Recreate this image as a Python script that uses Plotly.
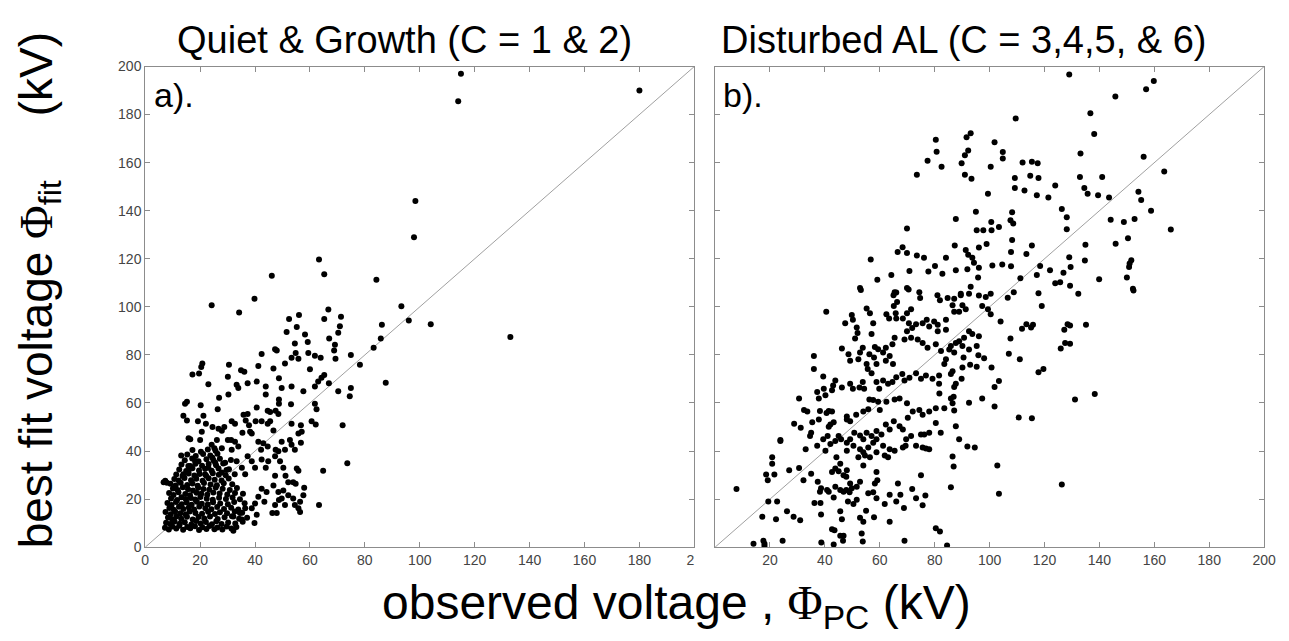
import plotly.graph_objects as go

# ---------------- data: panel a) Quiet & Growth (observed, fit) ----------------
quiet_points = [
    # sparse upper points
    (115, 197), (114, 185.5), (180, 190), (98.4, 144), (97.9, 129), (63.3, 119.7), (65.2, 113.6),
    (46.1, 112.9), (84.2, 111.3), (93.3, 100.3), (96, 94.3), (104, 92.8), (133, 87.5), (86.2, 92.5),
    (85.8, 86.8), (83.2, 83), (87.6, 68.4),
    # mid region
    (24.2, 100.7), (39.8, 103.4), (34.2, 97.7), (52.4, 94.9), (56, 96.6), (66.7, 98.9), (71.3, 95.9),
    (65.2, 94.9), (51.5, 89.5), (55.2, 91.6), (70.9, 91.9), (70.3, 89.2), (78.2, 75.9), (74.9, 80),
    (74.9, 66.2), (74.5, 62.8), (71.9, 50.7), (73.6, 34.9), (64.8, 31.8), (63.3, 17.6),
    (58.2, 88.5), (59.2, 85.4), (59.4, 80.8), (61.8, 79.7), (63.9, 78.8), (67, 86.8), (69.1, 84.2),
    (68.8, 81.8), (69.3, 78.4), (54.5, 84.7), (54.8, 80.8), (55.8, 78.4), (53.3, 78.8), (47.3, 82.4),
    (47.9, 81.8), (42.4, 80.4), (50.9, 76.4), (60, 74), (65.2, 71.6), (64.2, 70.5), (61.8, 66.9),
    (63, 68.9), (70.3, 64.9), (66.9, 68.2), (57.6, 64.9), (53.3, 66.9), (49.7, 66.2), (46.7, 74.3),
    (48.7, 70.3), (41.2, 75.4), (34.9, 73.6), (36.1, 73), (30.5, 75.9), (30.1, 70.9), (33.3, 67.6),
    (33.9, 66.2), (40.6, 68.9), (43.9, 66.9), (43.9, 63.5), (37.3, 68.2), (30.3, 63.5), (26.9, 62.2),
    (23, 67.8), (20.8, 76.4), (20.4, 75), (19.6, 72.3), (17.2, 71.9), (15.2, 60.5), (14.5, 59.7),
    (20.2, 59.1), (26.4, 57.4), (13.9, 54.7), (15.2, 52.7), (19.2, 52.4), (21.2, 54.7), (22.1, 51.4),
    (24.5, 50), (26.7, 49.3), (27.9, 48.4), (28.8, 50), (31.5, 52.4), (32.7, 51.4), (35.8, 55.1),
    (37.3, 55.4), (36.6, 52.7), (37.8, 50.7), (40.6, 58.1), (40.2, 52.4), (42.4, 52.4), (44.6, 51.4),
    (45.5, 52.4), (47.5, 56.8), (48.5, 55.4), (48.7, 61.5), (48.7, 59.7), (44.6, 56.8), (45.5, 56.2),
    (53.1, 59.5), (53.3, 51.4), (56.7, 50.7), (57, 48), (60.6, 52.4), (62.1, 51.1), (62.4, 57.4),
    (61.8, 59.7), (15.8, 45.3), (16.4, 44.9), (13.1, 38.2), (20.6, 48), (20, 44.6), (24.2, 42.6),
    (26.1, 44.6), (25.2, 41.2), (30.1, 44.6), (31.3, 44.6), (32.7, 43.9), (27.9, 41.2), (31.5, 40.5),
    (33.9, 41.9), (35.4, 47.6), (38.2, 48), (38.8, 47.3), (41.2, 43.9), (43, 43.2), (42.2, 40.5),
    (44.6, 41.9), (47.5, 40.5), (48.5, 39.9), (49.7, 43.9), (50.9, 40.5), (52.7, 44.6), (53.3, 42.6),
    (54.5, 40.5), (56.7, 43.5), (55.8, 47.3), (46.7, 48.6), (42.4, 36.5), (44.8, 35.8), (43.9, 33.1),
    (47.3, 37.8), (49.1, 35.8), (50.3, 33.1), (37.3, 37.8), (38.8, 35.8), (40, 33.1), (33.3, 35.8),
    (35.2, 33.1), (36.4, 30.4), (29.1, 35.1), (30.5, 32.4), (27.9, 31.1), (24.5, 37.2), (25.5, 35.1),
    (23, 33.1), (21.8, 30.4), (18.2, 35.8), (16.4, 33.8), (15.8, 31.8), (13.9, 30.4), (55.2, 32.7),
    (55.8, 31.8), (53.9, 27), (54.8, 26.4), (57.9, 24.7), (57.6, 21.6), (56.4, 18.9), (51.1, 29.7),
    (52.1, 27), (50.3, 23.6), (47.3, 29.7), (46.7, 25.7), (48.5, 23), (49.7, 20.3), (52.1, 21.6),
    (53.9, 20.3), (54.5, 17.6), (55.8, 16.2), (56.4, 14.6), (50.9, 17.6), (48.7, 19.6), (47.3, 17.6),
    (42.4, 24.3), (44.2, 23), (41.2, 21), (43.4, 18.9), (40, 18.2), (38.8, 16.2), (40.6, 13.5),
    (39.8, 10.1), (46.3, 14.2), (47.9, 14.2), (36.4, 16.2), (34.5, 14.2), (35.2, 11.5), (32.1, 12.8),
    (32.1, 6.8), (6.7, 27), (7.9, 26.8),
    # dense low cluster
    (7.2, 8.1), (8.6, 7.4), (9.9, 8.6), (11.3, 7.8), (12.4, 8.9), (13.8, 7.3), (15.3, 8.4), (16.4, 7.9),
    (18.1, 8.7), (19.6, 7.2), (20.8, 8.3), (22.3, 7.6), (23.4, 8.8), (25.2, 7.5), (26.3, 8.2), (28.1, 7.4),
    (29.7, 8.6), (31.4, 7.8), (33.2, 8.4),
    (7.6, 10.2), (9.1, 9.6), (10.7, 10.7), (12.6, 9.8), (14.4, 10.4), (16.8, 9.4), (18.6, 10.9), (20.2, 9.9),
    (22.1, 10.5), (24.3, 9.5), (25.9, 10.8), (27.8, 9.7), (30.2, 10.3), (32.8, 9.9), (35.5, 10.6),
    (8.3, 12.4), (9.8, 11.6), (11.4, 12.9), (13.1, 11.8), (15.2, 12.7), (17.3, 11.5), (19.4, 12.6),
    (21.5, 11.9), (23.6, 12.8), (26.4, 11.7), (28.9, 12.5), (31.6, 12.9), (34.2, 11.8), (37.1, 12.3),
    (7.4, 14.6), (9.3, 13.7), (10.9, 14.9), (12.8, 14.1), (14.7, 13.6), (16.2, 14.8), (18.3, 14.2),
    (20.7, 13.9), (22.9, 14.7), (25.4, 13.8), (27.2, 14.5), (29.8, 14.1), (32.6, 14.8), (35.3, 14.3),
    (8.8, 16.3), (10.4, 15.6), (12.3, 16.8), (13.9, 15.9), (15.9, 16.5), (17.8, 15.7), (19.7, 16.9),
    (21.9, 16.2), (24.1, 15.8), (26.2, 16.7), (28.7, 15.9), (31.3, 16.4), (33.9, 15.7),
    (8.1, 18.4), (9.6, 17.6), (11.2, 18.8), (13.3, 17.9), (15.1, 18.6), (16.9, 17.7), (18.8, 18.9),
    (20.6, 18.1), (22.8, 17.8), (24.7, 18.7), (27.3, 18.2), (30.1, 17.9), (32.4, 18.8), (36.2, 18.3),
    (9.4, 20.3), (11.6, 19.6), (13.2, 20.8), (14.8, 19.9), (16.6, 20.5), (18.2, 19.8), (20.1, 20.9),
    (22.4, 20.2), (24.6, 19.7), (26.9, 20.6), (29.4, 20.1), (31.8, 20.7), (34.5, 19.9),
    (8.7, 22.5), (10.3, 21.7), (12.1, 22.9), (14.6, 22.1), (16.3, 21.6), (18.7, 22.7), (20.4, 22.2),
    (22.6, 21.8), (24.8, 22.8), (27.1, 22.3), (29.9, 21.9), (32.7, 22.6), (35.6, 22.2),
    (10.1, 24.4), (11.8, 23.8), (13.7, 24.9), (15.6, 24.1), (17.4, 23.6), (19.3, 24.7), (21.2, 24.2),
    (23.3, 23.9), (25.7, 24.8), (28.2, 24.3), (30.8, 23.8), (33.4, 24.6),
    (9.2, 26.4), (11.1, 25.7), (12.9, 26.8), (15.3, 25.9), (17.2, 26.5), (19.1, 25.6), (21.4, 26.7),
    (23.8, 26.1), (26.1, 25.8), (28.6, 26.6), (31.7, 26.2),
    (7.3, 27.6), (10.6, 28.4), (12.2, 27.7), (14.3, 28.8), (16.7, 27.9), (18.6, 28.5), (20.9, 27.6),
    (23.1, 28.7), (25.3, 28.1), (27.8, 27.8), (30.4, 28.6),
    (11.3, 30.2), (13.6, 29.6), (15.8, 30.7), (17.9, 29.8), (19.8, 30.5), (22.2, 29.7), (24.6, 30.8),
    (26.8, 30.1), (29.3, 29.9), (32.6, 30.4),
    (12.4, 32.3), (14.9, 31.7), (17.2, 32.8), (19.6, 31.9), (21.8, 32.6), (24.2, 31.8), (26.7, 32.7),
    (29.6, 32.1),
    (13.2, 34.4), (15.7, 33.8), (18.3, 34.7), (20.7, 33.9), (23.1, 34.6), (25.8, 34.1), (28.4, 34.8),
    (14.4, 36.2), (17.1, 36.9), (19.4, 35.8), (22.3, 36.6), (24.9, 36.1), (27.2, 36.8), (31.2, 36.3),
    (15.3, 38.6), (18.4, 37.9), (21.1, 38.8), (23.7, 38.2), (26.3, 38.9),
    (17.2, 40.4), (20.3, 39.7), (22.8, 40.6), (25.6, 40.1),
]

# ---------------- data: panel b) Disturbed AL (observed, fit) ----------------
disturbed_points = [
    # x < 82, y > 105
    (80.4, 169.5), (80.7, 164.5), (77.4, 160.8), (82.5, 158.3), (73.5, 155), (69.9, 132.6),
    (68.3, 124.8), (66.5, 122.8), (69.9, 122.4), (73.5, 121.4), (76.1, 120.4), (56.7, 119.7),
    (59.1, 111.3), (64.2, 113.2), (70.8, 114.9), (80.1, 117), (77.7, 114.7), (82.8, 113.8),
    (53.1, 107), (66, 106), (70.5, 107.2),
    # x > 82, y > 105
    (129, 196.7), (159.8, 194), (157, 190.5), (145.8, 187.5), (136.7, 180.5), (138.1, 171.9),
    (109.5, 178.4), (133.1, 163.8), (156.1, 162.4), (163.6, 156.3), (132.9, 154), (141, 154),
    (134.5, 149.5), (135.7, 147.1), (139.5, 146.4), (143.5, 145.5), (154.2, 147.9), (155.2, 144.5),
    (158.8, 140), (144.1, 136.2), (148.9, 135.3), (152.8, 136.6), (166, 132.2), (150.4, 128.5),
    (145.9, 126.3), (134.9, 125.8), (134.7, 119.3), (151.6, 119.4), (150.8, 116.6), (151, 118),
    (150, 112.2), (152.4, 106.8), (139.9, 111.5), (129, 120.6), (129.5, 116.6), (126.9, 114.2),
    (128.1, 132.3), (128.1, 137.3), (126.3, 140.7), (123.9, 150.5), (121.4, 145.5), (117.2, 146.4),
    (117.8, 153.6), (114.8, 154.5), (112.7, 148.4), (112, 160.1), (115.4, 160.4), (117.5, 159.7),
    (109.2, 153.6), (109.2, 149.5), (101.8, 168.5), (104.8, 164.4), (104.8, 161.7), (100.4, 158.3),
    (99.4, 147.1), (93.1, 172.2), (91.6, 170.6), (92.2, 165.1), (91, 163.1), (89.8, 159.7),
    (91, 155), (93.4, 153.3), (95, 139.6), (87.7, 136.6), (95.3, 131.9), (97.7, 131.9),
    (100.6, 135.3), (103.4, 133.2), (100.7, 131.9), (107.6, 136), (108.6, 134.7), (108.2, 139.4),
    (108.2, 127.8), (107.8, 122.8), (107.8, 116.9), (98.9, 126.1), (96.1, 124.7), (91.3, 123.7),
    (92.2, 121.7), (93.7, 120.4), (94.3, 118.3), (96.1, 116.3), (95.8, 112.2), (87.3, 125.5),
    (84.1, 120.4), (87.7, 115.2), (91.9, 115.6), (93.1, 108.4), (101, 117.2), (104.6, 117.6),
    (113.4, 122), (115.4, 125.5), (111.2, 111.9), (108.8, 106.1), (118.4, 117), (117.2, 113.3),
    (122, 115.2), (123.9, 109.8), (125.7, 110.2), (129.3, 108.8), (132.3, 105.4), (89.5, 105.4),
    (92.5, 105.4), (96.1, 104.7), (100.4, 105.4), (117.8, 105.7),
    # x < 82, y < 108
    (52.8, 107.8), (65.4, 106.1), (65, 104.8), (69.9, 107.8), (74.4, 106.1), (74.7, 103.7), (81, 104.8),
    (81.9, 102.7), (40.5, 98), (55.2, 99.3), (56.4, 97.3), (49.8, 96.6), (50.2, 94.6), (47.4, 93.2),
    (51.6, 91.4), (51.9, 89.1), (51, 86.8), (57.6, 93.2), (57, 88.7), (62.4, 96.9), (63.4, 95.2),
    (66, 95.2), (65.8, 97.3), (65.1, 100.4), (66.3, 102), (68.4, 95.2), (69.9, 97.3), (71.4, 99),
    (70.6, 93.2), (71.8, 91.2), (73.2, 92.8), (75.6, 93.2), (77.1, 94.6), (78, 91.8), (79.8, 93.9),
    (69.9, 89.8), (71.4, 87.1), (69, 86.4), (73.8, 86.4), (75.6, 85), (77.4, 83), (80.4, 84.4),
    (65.4, 87.1), (64.6, 84.4), (62.2, 83), (61.2, 81), (63.6, 79.6), (64.8, 76.2), (62.2, 77.6),
    (46.2, 82.7), (48.6, 80.3), (49.2, 77.6), (52.2, 78.2), (53.8, 83), (52.8, 81), (56.2, 80.3),
    (58.2, 83.3), (59.4, 82.4), (57.9, 78.9), (58.8, 76.2), (55.2, 76.2), (55.6, 74.1), (57, 72.4),
    (36, 79.6), (36, 74.1), (39.4, 71), (43.8, 69.4), (42.6, 65.3), (43, 67.3), (46.2, 66.4), (49.2, 68),
    (50.2, 65.9), (52.6, 66.4), (53.8, 68.7), (54.3, 65.9), (58.8, 68.7), (59.8, 65.9), (61.2, 69.4),
    (63, 68), (64.6, 68.7), (66, 70.7), (68.2, 72.1), (69, 69.4), (70.8, 70.5), (73.2, 72.4), (75, 70.1),
    (76.8, 71.4), (79.2, 70.1), (81.6, 71.4), (81.6, 68), (37.2, 64.6), (39.6, 65.9), (40.2, 63.2),
    (37.8, 61.9), (30.6, 61.9), (32.4, 57.1), (33.6, 56.5), (38.2, 56.7), (41.4, 56.7), (42.6, 56.5),
    (40.6, 55.8), (35.4, 52), (37.8, 53.1), (35, 47.6), (34.6, 46.3), (41.4, 50.1), (42, 51), (43.2, 52),
    (48, 54.4), (48, 53.1), (49.2, 52.4), (51.4, 55.1), (54, 56.5), (55.8, 57.4), (57.6, 61.2),
    (59.4, 60.5), (56.2, 61.5), (60, 57.1), (62.4, 60.5), (65.4, 61.5), (67.2, 61.9), (69.9, 59.9),
    (72, 56.5), (70.2, 53.9), (74.4, 57.1), (75.6, 55.1), (78, 56.5), (80.4, 57.8), (28.8, 51.4),
    (31.2, 49.7), (23.8, 44.2), (27, 32), (30.6, 32.9), (32.2, 27.9), (35, 30.6), (33, 40.8),
    (37.2, 42.2), (39.4, 44.9), (41, 46.3), (45, 46.3), (45.9, 44.9), (48, 43.5), (49.2, 44.9),
    (50.7, 47.6), (52.8, 46.5), (54, 44.9), (55.2, 47.6), (57, 46.3), (58.8, 48.3), (60.6, 46.9),
    (58.8, 44.9), (62.2, 51), (63.6, 49), (65.1, 52.4), (67.2, 50.3), (68.4, 49), (69.6, 44.9),
    (71.4, 46.3), (73.2, 42.2), (75, 46.9), (76.2, 46.9), (78, 47.6), (82.2, 47.6), (80.4, 51.7),
    (42, 42.9), (43.8, 44.2), (40.2, 40.1), (48, 40.1), (50.4, 42.2), (52.8, 40.8), (54, 39.5),
    (55.8, 41.5), (57.6, 43.5), (52.2, 37.4), (54.6, 38.1), (56.4, 37.4), (58.8, 39.5), (61.2, 42.2),
    (61.8, 38.1), (63.6, 40.8), (65.4, 40.1), (63, 37.4), (68.4, 41.5), (69.4, 42.2), (75.6, 41.5),
    (76.8, 41.1), (78, 40.8), (54, 34), (58.8, 31.3), (59.1, 27.9), (58.2, 26.5), (44.2, 37.4),
    (45.6, 34.7), (43.8, 32.7), (42.6, 31.3), (45, 31.6), (46.8, 29.9), (48, 32), (47.8, 29.3),
    (49.2, 26.5), (49.8, 24.5), (51.6, 25.2), (52.8, 27.2), (37.4, 27.2), (38.6, 24.5), (38.2, 23.1),
    (40.8, 23.8), (41.4, 23.1), (43.8, 25.2), (45.6, 23.8), (46.8, 23.1), (47.8, 23.8), (49, 22.9),
    (36.2, 18.4), (38.6, 13.6), (38.4, 18.4), (43.2, 20.7), (45.6, 15), (46.2, 11.6), (48.4, 19),
    (50.4, 18), (51.6, 19.7), (55, 15.2), (55.8, 22.4), (57.6, 22.9), (58.8, 20.4), (61.8, 18),
    (63.6, 21.8), (66, 19), (67.5, 21.8), (66.6, 26.5), (71.8, 24.2), (73.2, 20.4), (75.6, 17.4),
    (76.6, 21.5), (68.8, 16.3), (52.8, 12.2), (54, 10.6), (57.9, 12.5), (63.6, 10.6), (75, 29.9),
    (42.6, 7.5), (43.5, 7.1), (45.6, 4.8), (46.8, 4.8), (46.6, 2.7), (43.2, 1.1), (38.7, 2), (53.4, 5.7),
    (53.8, 2.4), (69, 2.7), (80.4, 7.9), (81.9, 6.5), (24.6, 2.7), (18, 1.4), (18, 0.5), (14, 1.4),
    (17.6, 2.7), (17.2, 12.7), (22.2, 11.6), (26.2, 15), (28.6, 12.7), (31, 11.2), (7.8, 24.2),
    (19.4, 19), (22.6, 19), (19.2, 27.9), (18.6, 30.2), (21.6, 30.2), (23.8, 44.6), (20.8, 34.7),
    (20.8, 37.4),
    # x > 82, y < 108
    (152.2, 107.5), (119, 100.4), (106.6, 103.8), (104, 93.9), (107.6, 86.8), (107, 80.5), (111, 78.2),
    (111.8, 90.9), (113.4, 92.8), (115.1, 91.4), (115.8, 92.5), (117.8, 72.8), (119.6, 74.1),
    (110.6, 54), (115.4, 53.7), (127.2, 90.5), (128.4, 92.8), (129.3, 92.2), (135.1, 92.5),
    (125.9, 82.7), (127.5, 85), (129.3, 84.6), (131.1, 61.5), (138.3, 63.7), (126.3, 26.1),
    (102.8, 34), (103.4, 22.2), (101.8, 58.5), (101.8, 66.7), (103.4, 69.1), (97.3, 61.9),
    (92.5, 60.1), (100.7, 74.8), (98, 78.6), (95.3, 75.1), (92.9, 75.9), (95.9, 79.9),
    (95.3, 83.7), (90.1, 74.8), (89.8, 70.1), (86.9, 62.6), (100.4, 96.9), (99.4, 99),
    (97.3, 100.4), (98.6, 104.1), (89.5, 104.8), (87.1, 103.4), (84.7, 103.7), (90.1, 100.7),
    (88.9, 98), (87.1, 98), (91.3, 99), (86.5, 100.7), (84.1, 94.6), (84.1, 90.5), (81.1, 92.5),
    (81.1, 89.8), (92.5, 89.8), (93.7, 88.7), (96.1, 87.8), (90.7, 87.1), (88.9, 85.7), (87.7, 85),
    (90.1, 83.7), (92.5, 82.3), (85.9, 83.7), (87.1, 81), (85.3, 82.3), (82.3, 81.6), (84.1, 78.2),
    (83.5, 76.2), (86.5, 73.2), (85.9, 72.1), (87.7, 68), (87.1, 66.7), (90.5, 78.9), (81.7, 63.9),
    (85.9, 61.9), (86.5, 59.9), (87.1, 56.9), (83.5, 57.8), (87.7, 50.3), (88.9, 44.9), (91.9, 41.9),
    (94.6, 41.5), (86.5, 37.7), (86.9, 33.6), (85.9, 24.9), (84.5, 0.7),
]

quiet_obs = [p[0] for p in quiet_points]
quiet_fit = [p[1] for p in quiet_points]
disturbed_obs = [p[0] for p in disturbed_points]
disturbed_fit = [p[1] for p in disturbed_points]

left_x_ticks = [0, 20, 40, 60, 80, 100, 120, 140, 160, 180, 200]
left_x_labels = ["0", "20", "40", "60", "80", "100", "120", "140", "160", "180", "2\u00a0\u00a0"]
right_x_ticks = [20, 40, 60, 80, 100, 120, 140, 160, 180, 200]
right_x_labels = ["20", "40", "60", "80", "100", "120", "140", "160", "180", "200"]
y_ticks = [0, 20, 40, 60, 80, 100, 120, 140, 160, 180, 200]
diag = [0, 200]

W, H = 1289, 641
FONT = "Liberation Sans, Arial, sans-serif"
AXCOL = "#8c8c8c"

fig = go.Figure()
for xa, ya, xs, ys in [("x", "y", quiet_obs, quiet_fit), ("x2", "y2", disturbed_obs, disturbed_fit)]:
    fig.add_trace(go.Scatter(x=diag, y=diag, mode="lines", xaxis=xa, yaxis=ya,
                             line=dict(color="#a0a0a0", width=1), hoverinfo="skip"))
    fig.add_trace(go.Scatter(x=xs, y=ys, mode="markers", xaxis=xa, yaxis=ya,
                             marker=dict(color="black", size=6, line=dict(width=0))))

def px(v):
    return v / W

def py(v):
    return 1 - v / H

common_ax = dict(range=[0, 200], showgrid=False, zeroline=False, showline=True, linecolor=AXCOL,
                 linewidth=1, mirror="ticks", ticks="inside", ticklen=5, tickcolor=AXCOL,
                 tickfont=dict(family=FONT, size=14, color="#444"), fixedrange=True)

fig.update_layout(
    width=W, height=H, paper_bgcolor="white", plot_bgcolor="white", showlegend=False,
    margin=dict(l=0, r=0, t=0, b=0),
    xaxis=dict(common_ax, domain=[px(143), px(699)], anchor="y", tickvals=left_x_ticks, ticktext=left_x_labels),
    yaxis=dict(common_ax, domain=[py(553), py(60)], anchor="x", tickvals=y_ticks),
    xaxis2=dict(common_ax, domain=[px(720), px(1276)], anchor="y2", tickvals=right_x_ticks, ticktext=right_x_labels),
    yaxis2=dict(common_ax, domain=[py(553), py(60)], anchor="x2", tickvals=y_ticks, showticklabels=False),
)

phi = '<span style="font-family:Liberation Serif, Times New Roman, serif">Φ</span>'
sp = "\u00a0" * 5
ann = [
    dict(text="Quiet &amp; Growth (C = 1 &amp; 2)", x=px(406), y=py(33), size=38),
    dict(text="Disturbed AL (C = 3,4,5, &amp; 6)", x=px(972), y=py(33), size=38),
    dict(text="a).", x=px(150), y=py(89), size=34, xanchor="left"),
    dict(text="b).", x=px(726), y=py(89), size=34, xanchor="left"),
    dict(text="observed voltage , " + phi + "<sub>PC</sub> (kV)", x=px(681), y=py(613), size=48),
    dict(text="best fit voltage " + phi + "<sub>fit</sub>" + sp + "(kV)", x=px(36), y=py(290), size=46, angle=-90),
]
for a in ann:
    fig.add_annotation(text=a["text"], x=a["x"], y=a["y"], xref="paper", yref="paper",
                       xanchor=a.get("xanchor", "center"), yanchor="middle", showarrow=False,
                       textangle=a.get("angle", 0), font=dict(family=FONT, size=a["size"], color="black"))

fig.write_html("out.html")
